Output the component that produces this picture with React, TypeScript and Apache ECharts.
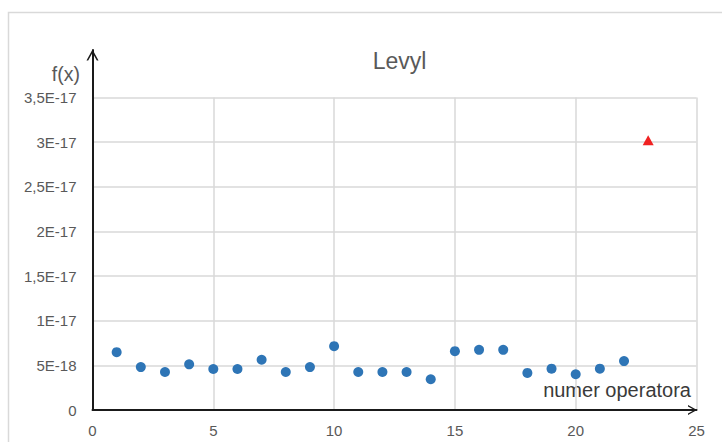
import React, { useEffect, useRef } from "react";
import * as echarts from "echarts";

// Operator numbers and their f(x) values (in units of 1E-18)
const operators = [1, 2, 3, 4, 5, 6, 7, 8, 9, 10, 11, 12, 13, 14, 15, 16, 17, 18, 19, 20, 21, 22];
const valuesE18 = [6.48, 4.81, 4.26, 5.11, 4.59, 4.59, 5.63, 4.26, 4.81, 7.15, 4.26, 4.26, 4.26, 3.44, 6.59, 6.74, 6.74, 4.15, 4.63, 4.0, 4.63, 5.48];

// The highlighted best operator
const bestOperator = [23];
const bestValueE18 = [30.2];

// Y tick labels, one per 5E-18 step
const yTickLabels = ["0", "5E-18", "1E-17", "1,5E-17", "2E-17", "2,5E-17", "3E-17", "3,5E-17"];
const xTicks = [0, 5, 10, 15, 20, 25];

const titleText = "Levyl";
const yName = "f(x)";
const xName = "numer operatora";

const FONT = "'Liberation Sans', Arial, sans-serif";
const GRID = "#d9d9d9";
const LABEL = "#595959";
const AXIS = "#1a1a1a";

// open chevron pointing up; the axis rotates it along the line
const chevron = "path://M0,9 L5,0 L10,9 L8.6,9 L5,2.6 L1.4,9 Z";

export default function App() {
  const ref = useRef<HTMLDivElement>(null);

  useEffect(() => {
    if (!ref.current) return;
    const chart = echarts.init(ref.current, null, { renderer: "svg" });

    const blue = operators.map((x, i) => [x, valuesE18[i]]);
    const red = bestOperator.map((x, i) => [x, bestValueE18[i]]);

    chart.setOption({
      animation: false,
      backgroundColor: "#ffffff",
      textStyle: { fontFamily: FONT },
      title: {
        text: titleText,
        left: 394.5,
        top: 44,
        textAlign: "center",
        textStyle: { fontFamily: FONT, fontSize: 23, fontWeight: "normal", color: LABEL },
      },
      graphic: [
        {
          type: "rect",
          shape: { x: 8.5, y: 12.5, width: 760, height: 460 },
          style: { fill: "none", stroke: GRID, lineWidth: 1.5 },
          silent: true,
          z: -10,
        },
        {
          type: "text",
          x: 80,
          y: 74,
          style: {
            text: yName,
            fontFamily: FONT,
            fontSize: 19.5,
            fill: LABEL,
            textAlign: "right",
            textVerticalAlign: "middle",
          },
        },
        {
          type: "text",
          x: 691,
          y: 390,
          style: {
            text: xName,
            fontFamily: FONT,
            fontSize: 20,
            fill: "#3a3a3a",
            textAlign: "right",
            textVerticalAlign: "middle",
          },
        },
      ],
      grid: [
        { left: 92.5, right: 25.5, top: 97.5, bottom: 32 },
        { left: 92.5, right: 25.5, top: 50, bottom: 32 },
      ],
      xAxis: [
        {
          type: "value",
          gridIndex: 0,
          min: 0,
          max: 25,
          interval: 5,
          axisLine: {
            show: true,
            symbol: ["none", chevron],
            symbolSize: [11, 9],
            symbolOffset: [0, -4],
            lineStyle: { color: AXIS, width: 2 },
          },
          axisTick: { show: false },
          axisLabel: {
            margin: 13,
            fontSize: 15,
            color: LABEL,
            fontFamily: FONT,
            formatter: (v: number) => (xTicks.includes(v) ? String(v) : ""),
          },
          splitLine: { show: true, lineStyle: { color: GRID, width: 1.5 } },
        },
        { type: "value", gridIndex: 1, min: 0, max: 25, show: false },
      ],
      yAxis: [
        {
          type: "value",
          gridIndex: 0,
          min: 0,
          max: 35,
          interval: 5,
          axisLine: { show: false },
          axisTick: { show: false },
          axisLabel: {
            margin: 16,
            fontSize: 15,
            color: LABEL,
            fontFamily: FONT,
            formatter: (v: number) => yTickLabels[Math.round(v / 5)] ?? "",
          },
          splitLine: { show: true, lineStyle: { color: GRID, width: 1.5 } },
        },
        {
          type: "value",
          gridIndex: 1,
          min: 0,
          max: 1,
          axisLine: {
            show: true,
            symbol: ["none", chevron],
            symbolSize: [12, 11],
            symbolOffset: [0, -5],
            lineStyle: { color: AXIS, width: 2 },
          },
          axisTick: { show: false },
          axisLabel: { show: false },
          splitLine: { show: false },
        },
      ],
      series: [
        {
          type: "scatter",
          xAxisIndex: 0,
          yAxisIndex: 0,
          data: blue,
          symbol: "circle",
          symbolSize: 10,
          itemStyle: { color: "#2e75b6", opacity: 1 },
          z: 5,
        },
        {
          type: "scatter",
          xAxisIndex: 0,
          yAxisIndex: 0,
          data: red,
          symbol: "triangle",
          symbolSize: [11, 10],
          itemStyle: { color: "#f02222", opacity: 1 },
          z: 5,
        },
      ],
    });

    return () => chart.dispose();
  }, []);

  return (
    <div
      ref={ref}
      style={{ position: "absolute", left: 0, top: 0, width: 722, height: 442 }}
    />
  );
}
